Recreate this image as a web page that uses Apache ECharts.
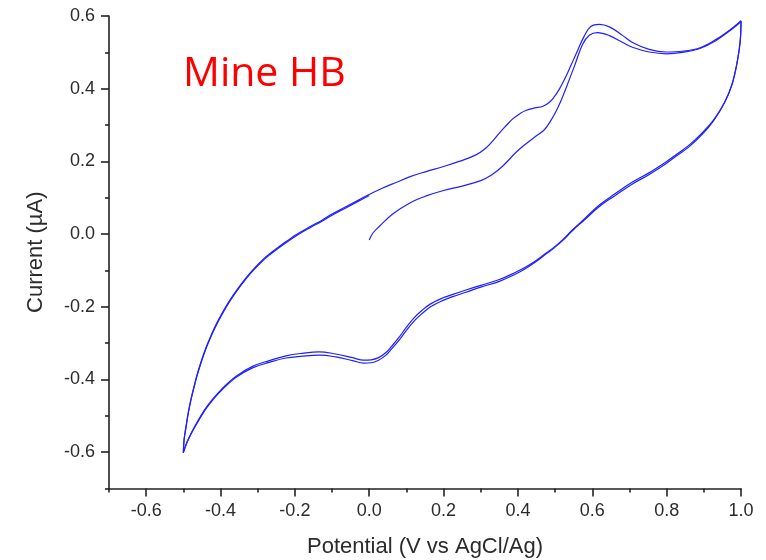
<!DOCTYPE html>
<html>
<head>
<meta charset="utf-8">
<script src="https://cdn.jsdelivr.net/npm/echarts@6/dist/echarts.min.js"></script>
<style>
  html, body { margin: 0; padding: 0; background: #fff; }
  #cv_chart { width: 766px; height: 560px; }
</style>
</head>
<body>
<div id="cv_chart"></div>
<script>
// potential (V) / current (uA) pairs, one array per sweep
const sweep1 = [
  [0.0, -0.016], [0.01, 0.003], [0.027, 0.021], [0.063, 0.055], [0.108, 0.085],
  [0.153, 0.105], [0.2, 0.12], [0.25, 0.132], [0.3, 0.147], [0.33, 0.163],
  [0.36, 0.188], [0.395, 0.225], [0.421, 0.248], [0.448, 0.269], [0.471, 0.287],
  [0.49, 0.315], [0.507, 0.347], [0.525, 0.39], [0.538, 0.425], [0.552, 0.462],
  [0.574, 0.522], [0.592, 0.547], [0.614, 0.554], [0.646, 0.546], [0.682, 0.527],
  [0.708, 0.514], [0.753, 0.501], [0.8, 0.496], [0.843, 0.5], [0.888, 0.51],
  [0.932, 0.532], [0.977, 0.565], [1.0, 0.585]
];
const sweep2 = [
  [1.0, 0.585], [0.998, 0.53], [0.99, 0.475], [0.975, 0.41], [0.955, 0.36],
  [0.925, 0.31], [0.897, 0.276], [0.86, 0.24], [0.825, 0.214], [0.8, 0.195],
  [0.75, 0.162], [0.708, 0.138], [0.66, 0.105], [0.619, 0.076], [0.58, 0.04],
  [0.547, 0.01], [0.52, -0.018], [0.495, -0.04], [0.475, -0.055], [0.45, -0.075],
  [0.422, -0.094], [0.39, -0.112], [0.35, -0.13], [0.3, -0.146], [0.26, -0.16],
  [0.225, -0.172], [0.197, -0.183], [0.165, -0.2], [0.143, -0.218], [0.12, -0.24],
  [0.1, -0.265], [0.081, -0.291], [0.06, -0.316], [0.045, -0.333], [0.025, -0.347],
  [0.005, -0.354], [-0.015, -0.355], [-0.045, -0.348], [-0.09, -0.338], [-0.135, -0.333],
  [-0.18, -0.336], [-0.224, -0.341], [-0.269, -0.353], [-0.314, -0.368], [-0.359, -0.395],
  [-0.404, -0.437], [-0.435, -0.475], [-0.457, -0.51], [-0.475, -0.542], [-0.49, -0.573],
  [-0.5, -0.6]
];
const sweep3 = [
  [-0.5, -0.6], [-0.498, -0.565], [-0.493, -0.53], [-0.487, -0.492], [-0.48, -0.456],
  [-0.471, -0.418], [-0.462, -0.383], [-0.451, -0.347], [-0.439, -0.312], [-0.426, -0.28],
  [-0.413, -0.251], [-0.396, -0.218], [-0.377, -0.185], [-0.355, -0.152], [-0.332, -0.121],
  [-0.31, -0.095], [-0.287, -0.071], [-0.265, -0.052], [-0.242, -0.034], [-0.22, -0.018],
  [-0.197, -0.002], [-0.16, 0.02], [-0.126, 0.039], [-0.1, 0.055], [-0.063, 0.075],
  [-0.03, 0.093], [0.0, 0.109], [0.035, 0.126], [0.072, 0.142], [0.11, 0.158],
  [0.153, 0.172], [0.2, 0.186], [0.242, 0.2], [0.287, 0.218], [0.314, 0.237],
  [0.333, 0.257], [0.35, 0.278], [0.368, 0.298], [0.386, 0.317], [0.405, 0.331],
  [0.421, 0.34], [0.445, 0.347], [0.466, 0.351], [0.484, 0.362], [0.498, 0.378],
  [0.511, 0.398], [0.525, 0.425], [0.543, 0.465], [0.556, 0.495], [0.578, 0.544],
  [0.596, 0.571], [0.619, 0.577], [0.646, 0.57], [0.682, 0.546], [0.708, 0.527],
  [0.753, 0.508], [0.798, 0.501], [0.843, 0.503], [0.888, 0.512], [0.932, 0.535],
  [0.977, 0.567], [1.0, 0.587]
];
const sweep4 = [
  [1.0, 0.587], [0.998, 0.535], [0.991, 0.48], [0.977, 0.415], [0.957, 0.365],
  [0.927, 0.315], [0.898, 0.281], [0.862, 0.246], [0.826, 0.219], [0.8, 0.2],
  [0.75, 0.167], [0.708, 0.143], [0.66, 0.11], [0.619, 0.08], [0.58, 0.043],
  [0.547, 0.012], [0.52, -0.016], [0.495, -0.038], [0.475, -0.053], [0.45, -0.072],
  [0.422, -0.09], [0.39, -0.107], [0.35, -0.125], [0.3, -0.141], [0.26, -0.154],
  [0.225, -0.166], [0.197, -0.176], [0.165, -0.192], [0.143, -0.209], [0.12, -0.231],
  [0.1, -0.256], [0.081, -0.283], [0.06, -0.309], [0.045, -0.326], [0.025, -0.34],
  [0.005, -0.346], [-0.015, -0.347], [-0.045, -0.34], [-0.09, -0.33], [-0.135, -0.324],
  [-0.18, -0.328], [-0.224, -0.335], [-0.269, -0.348], [-0.314, -0.364], [-0.359, -0.392],
  [-0.404, -0.434], [-0.435, -0.472], [-0.457, -0.507], [-0.475, -0.54], [-0.49, -0.572],
  [-0.5, -0.602]
];
const sweep5 = [
  [-0.5, -0.602], [-0.498, -0.567], [-0.493, -0.533], [-0.487, -0.495], [-0.48, -0.459],
  [-0.471, -0.421], [-0.462, -0.386], [-0.451, -0.35], [-0.439, -0.315], [-0.426, -0.283],
  [-0.413, -0.254], [-0.396, -0.221], [-0.377, -0.188], [-0.355, -0.155], [-0.332, -0.124],
  [-0.31, -0.098], [-0.287, -0.074], [-0.265, -0.055], [-0.242, -0.037], [-0.22, -0.021],
  [-0.197, -0.005], [-0.16, 0.017], [-0.126, 0.036], [-0.1, 0.052], [-0.063, 0.072],
  [-0.03, 0.09], [0.0, 0.106]
];

const xMajor = [-0.6, -0.4, -0.2, 0.0, 0.2, 0.4, 0.6, 0.8, 1.0];
const xMinor = [-0.7, -0.5, -0.3, -0.1, 0.1, 0.3, 0.5, 0.7, 0.9];
const yMajor = [-0.6, -0.4, -0.2, 0.0, 0.2, 0.4, 0.6];
const yMinor = [-0.7, -0.5, -0.3, -0.1, 0.1, 0.3, 0.5];

const lineColor = "#1f1fff";
const axisColor = "#222";
const labelFont = { fontFamily: "Liberation Sans", fontSize: 18, color: "#2b2b2b" };
const nameFont = { fontFamily: "Liberation Sans", fontSize: 22, color: "#2b2b2b" };

let chart = echarts.init(document.getElementById("cv_chart"), null, { renderer: "canvas" });

function sweepSeries(data) {
  return {
    type: "line",
    data: data,
    showSymbol: false,
    smooth: 0.4,
    lineStyle: { color: lineColor, width: 1.2 },
    silent: true,
  };
}

// axis that only draws a set of ticks (no line, no labels)
function tickAxis(min, max, pos, values, len) {
  return {
    type: "value",
    min: min,
    max: max,
    position: pos,
    axisLine: { show: false, onZero: false },
    axisTick: { show: true, inside: false, length: len, customValues: values, lineStyle: { color: axisColor, width: 1.6 } },
    axisLabel: { show: false },
    splitLine: { show: false },
  };
}

let option = {
  animation: false,
  title: {
    text: "Mine HB",
    left: 183,
    top: 54,
    padding: 0,
    textStyle: { fontFamily: "Open Sans", fontSize: 41, fontWeight: "normal", color: "#ff0000" },
  },
  grid: { left: 109, right: 25, top: 16, bottom: 71.5, outerBoundsMode: "none" },
  xAxis: [
    {
      type: "value",
      min: -0.7,
      max: 1.0,
      position: "bottom",
      name: "Potential (V vs AgCl/Ag)",
      nameLocation: "middle",
      nameGap: 47,
      nameTextStyle: nameFont,
      axisLine: { show: true, onZero: false, lineStyle: { color: axisColor, width: 1.6 } },
      axisTick: { show: false },
      axisLabel: {
        ...labelFont,
        margin: 14,
        customValues: xMajor,
        formatter: (v) => v.toFixed(1),
      },
      splitLine: { show: false },
    },
    tickAxis(-0.7, 1.0, "bottom", xMajor, 8),
    tickAxis(-0.7, 1.0, "bottom", xMinor, 4),
  ],
  yAxis: [
    {
      type: "value",
      min: -0.7,
      max: 0.6,
      position: "left",
      name: "Current (µA)",
      nameLocation: "middle",
      nameGap: 62,
      nameTextStyle: nameFont,
      axisLine: { show: true, onZero: false, lineStyle: { color: axisColor, width: 1.6 } },
      axisTick: { show: false },
      axisLabel: {
        ...labelFont,
        margin: 14,
        customValues: yMajor,
        formatter: (v) => v.toFixed(1),
      },
      splitLine: { show: false },
    },
    tickAxis(-0.7, 0.6, "left", yMajor, 8),
    tickAxis(-0.7, 0.6, "left", yMinor, 4),
  ],
  series: [sweep1, sweep2, sweep3, sweep4, sweep5].map(sweepSeries),
};

chart.setOption(option);
</script>
</body>
</html>
